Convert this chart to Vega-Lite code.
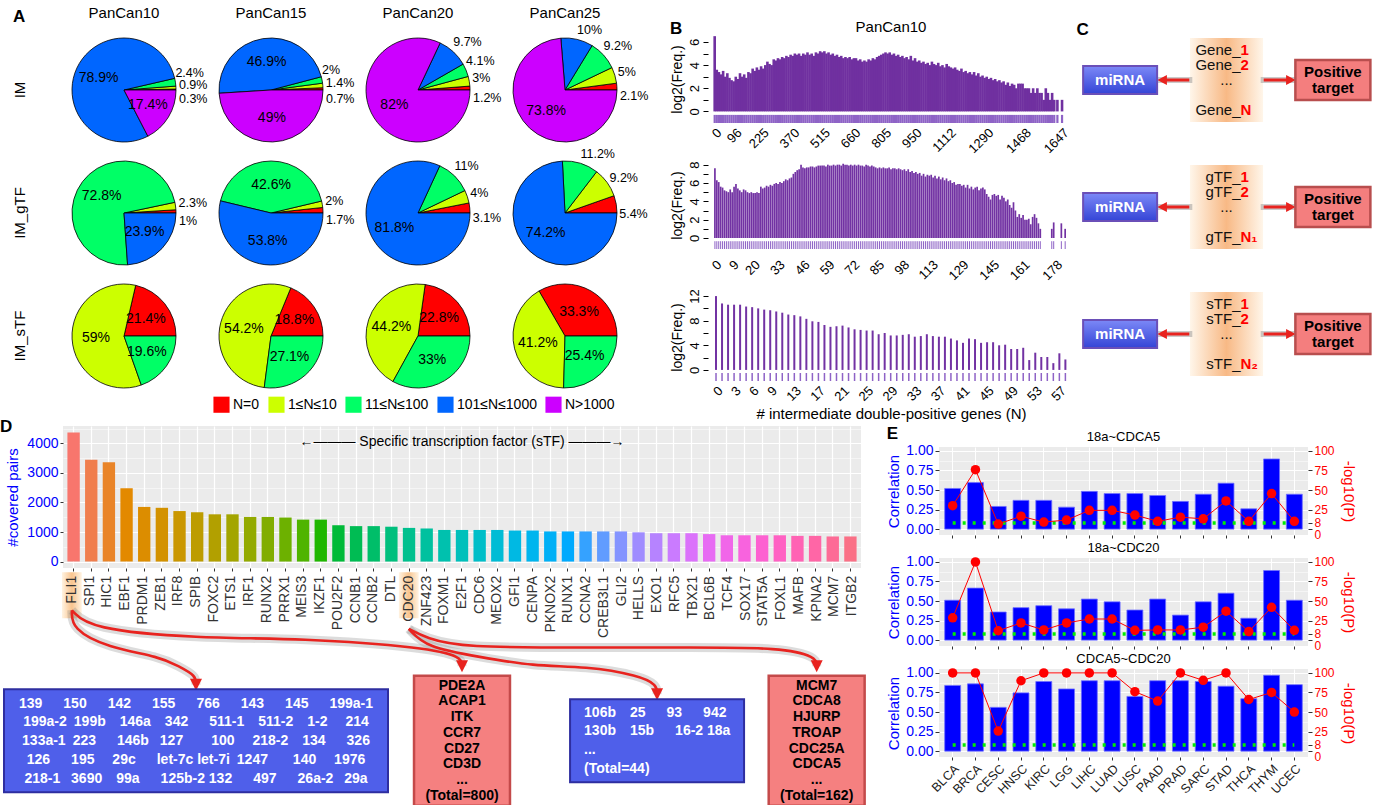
{
"$schema": "https://vega.github.io/schema/vega-lite/v6.json",
"background": "white",
"padding": {"left": 0, "top": 6, "right": 2, "bottom": 0},
"config": {"font": "Liberation Sans", "view": {"stroke": null}, "title": {"fontWeight": "normal", "color": "black"}, "axis": {"titleFontWeight": "normal", "labelColor": "black", "titleColor": "black", "labelOverlap": false}},
"datasets": {
"pies": [
{"set":"PanCan10","type":"IM","cls":"N=0","lo":0,"p":0.003},
{"set":"PanCan10","type":"IM","cls":"1≤N≤10","lo":1,"p":0.009},
{"set":"PanCan10","type":"IM","cls":"11≤N≤100","lo":11,"p":0.024},
{"set":"PanCan10","type":"IM","cls":"101≤N≤1000","lo":101,"p":0.789},
{"set":"PanCan10","type":"IM","cls":"N>1000","lo":1001,"p":0.174},
{"set":"PanCan15","type":"IM","cls":"N=0","lo":0,"p":0.007},
{"set":"PanCan15","type":"IM","cls":"1≤N≤10","lo":1,"p":0.014},
{"set":"PanCan15","type":"IM","cls":"11≤N≤100","lo":11,"p":0.02},
{"set":"PanCan15","type":"IM","cls":"101≤N≤1000","lo":101,"p":0.469},
{"set":"PanCan15","type":"IM","cls":"N>1000","lo":1001,"p":0.49},
{"set":"PanCan20","type":"IM","cls":"N=0","lo":0,"p":0.012},
{"set":"PanCan20","type":"IM","cls":"1≤N≤10","lo":1,"p":0.03},
{"set":"PanCan20","type":"IM","cls":"11≤N≤100","lo":11,"p":0.041},
{"set":"PanCan20","type":"IM","cls":"101≤N≤1000","lo":101,"p":0.097},
{"set":"PanCan20","type":"IM","cls":"N>1000","lo":1001,"p":0.82},
{"set":"PanCan25","type":"IM","cls":"N=0","lo":0,"p":0.021},
{"set":"PanCan25","type":"IM","cls":"1≤N≤10","lo":1,"p":0.05},
{"set":"PanCan25","type":"IM","cls":"11≤N≤100","lo":11,"p":0.092},
{"set":"PanCan25","type":"IM","cls":"101≤N≤1000","lo":101,"p":0.1},
{"set":"PanCan25","type":"IM","cls":"N>1000","lo":1001,"p":0.738},
{"set":"PanCan10","type":"IM_gTF","cls":"N=0","lo":0,"p":0.01},
{"set":"PanCan10","type":"IM_gTF","cls":"1≤N≤10","lo":1,"p":0.023},
{"set":"PanCan10","type":"IM_gTF","cls":"11≤N≤100","lo":11,"p":0.728},
{"set":"PanCan10","type":"IM_gTF","cls":"101≤N≤1000","lo":101,"p":0.239},
{"set":"PanCan15","type":"IM_gTF","cls":"N=0","lo":0,"p":0.017},
{"set":"PanCan15","type":"IM_gTF","cls":"1≤N≤10","lo":1,"p":0.02},
{"set":"PanCan15","type":"IM_gTF","cls":"11≤N≤100","lo":11,"p":0.426},
{"set":"PanCan15","type":"IM_gTF","cls":"101≤N≤1000","lo":101,"p":0.538},
{"set":"PanCan20","type":"IM_gTF","cls":"N=0","lo":0,"p":0.031},
{"set":"PanCan20","type":"IM_gTF","cls":"1≤N≤10","lo":1,"p":0.04},
{"set":"PanCan20","type":"IM_gTF","cls":"11≤N≤100","lo":11,"p":0.11},
{"set":"PanCan20","type":"IM_gTF","cls":"101≤N≤1000","lo":101,"p":0.818},
{"set":"PanCan25","type":"IM_gTF","cls":"N=0","lo":0,"p":0.054},
{"set":"PanCan25","type":"IM_gTF","cls":"1≤N≤10","lo":1,"p":0.092},
{"set":"PanCan25","type":"IM_gTF","cls":"11≤N≤100","lo":11,"p":0.112},
{"set":"PanCan25","type":"IM_gTF","cls":"101≤N≤1000","lo":101,"p":0.742},
{"set":"PanCan10","type":"IM_sTF","cls":"N=0","lo":0,"p":0.214},
{"set":"PanCan10","type":"IM_sTF","cls":"1≤N≤10","lo":1,"p":0.59},
{"set":"PanCan10","type":"IM_sTF","cls":"11≤N≤100","lo":11,"p":0.196},
{"set":"PanCan15","type":"IM_sTF","cls":"N=0","lo":0,"p":0.188},
{"set":"PanCan15","type":"IM_sTF","cls":"1≤N≤10","lo":1,"p":0.542},
{"set":"PanCan15","type":"IM_sTF","cls":"11≤N≤100","lo":11,"p":0.271},
{"set":"PanCan20","type":"IM_sTF","cls":"N=0","lo":0,"p":0.228},
{"set":"PanCan20","type":"IM_sTF","cls":"1≤N≤10","lo":1,"p":0.442},
{"set":"PanCan20","type":"IM_sTF","cls":"11≤N≤100","lo":11,"p":0.33},
{"set":"PanCan25","type":"IM_sTF","cls":"N=0","lo":0,"p":0.333},
{"set":"PanCan25","type":"IM_sTF","cls":"1≤N≤10","lo":1,"p":0.412},
{"set":"PanCan25","type":"IM_sTF","cls":"11≤N≤100","lo":11,"p":0.254}
],
"b1": [
{"n":0,"f":6.5},{"n":10,"f":3.6},{"n":20,"f":3.4},{"n":30,"f":3.2},{"n":40,"f":3.5},{"n":50,"f":3.0},{"n":60,"f":3.3},{"n":70,"f":2.9},{"n":80,"f":2.7},{"n":90,"f":2.6},
{"n":100,"f":3.0},{"n":110,"f":2.8},{"n":120,"f":3.3},{"n":130,"f":3.0},{"n":140,"f":3.2},{"n":150,"f":2.9},{"n":160,"f":3.4},{"n":170,"f":3.3},{"n":180,"f":3.7},{"n":190,"f":3.5},
{"n":200,"f":3.8},{"n":210,"f":3.6},{"n":220,"f":3.9},{"n":230,"f":3.7},{"n":240,"f":4.0},{"n":250,"f":4.3},{"n":260,"f":4.1},{"n":270,"f":4.0},{"n":280,"f":4.5},{"n":290,"f":4.4},
{"n":300,"f":4.6},{"n":310,"f":4.5},{"n":320,"f":4.7},{"n":330,"f":4.6},{"n":340,"f":4.8},{"n":350,"f":4.7},{"n":360,"f":4.9},{"n":370,"f":4.8},{"n":380,"f":5.0},{"n":390,"f":4.9},
{"n":400,"f":5.0},{"n":410,"f":4.8},{"n":420,"f":5.0},{"n":430,"f":4.9},{"n":440,"f":5.1},{"n":450,"f":4.9},{"n":460,"f":5.0},{"n":470,"f":4.8},{"n":480,"f":5.1},{"n":490,"f":5.0},
{"n":500,"f":5.2},{"n":510,"f":5.1},{"n":520,"f":5.2},{"n":530,"f":5.0},{"n":540,"f":5.1},{"n":550,"f":4.9},{"n":560,"f":5.0},{"n":570,"f":4.8},{"n":580,"f":4.9},{"n":590,"f":4.7},
{"n":600,"f":4.8},{"n":610,"f":4.6},{"n":620,"f":4.7},{"n":630,"f":4.6},{"n":640,"f":4.7},{"n":650,"f":4.5},{"n":660,"f":4.6},{"n":670,"f":4.6},{"n":680,"f":4.4},{"n":690,"f":4.5},
{"n":700,"f":4.3},{"n":710,"f":4.4},{"n":720,"f":4.3},{"n":730,"f":4.5},{"n":740,"f":4.4},{"n":750,"f":4.6},{"n":760,"f":4.5},{"n":770,"f":4.7},{"n":780,"f":4.8},{"n":790,"f":4.9},
{"n":800,"f":5.0},{"n":810,"f":5.1},{"n":820,"f":5.0},{"n":830,"f":5.1},{"n":840,"f":4.9},{"n":850,"f":5.0},{"n":860,"f":4.8},{"n":870,"f":4.9},{"n":880,"f":4.7},{"n":890,"f":4.8},
{"n":900,"f":4.6},{"n":910,"f":4.7},{"n":920,"f":4.5},{"n":930,"f":4.8},{"n":940,"f":4.4},{"n":950,"f":4.6},{"n":960,"f":4.3},{"n":970,"f":4.4},{"n":980,"f":4.2},{"n":990,"f":4.3},
{"n":1000,"f":4.1},{"n":1010,"f":4.2},{"n":1020,"f":4.0},{"n":1030,"f":4.3},{"n":1040,"f":4.1},{"n":1050,"f":4.0},{"n":1060,"f":4.2},{"n":1070,"f":3.9},{"n":1080,"f":4.0},{"n":1090,"f":3.8},
{"n":1100,"f":4.1},{"n":1110,"f":3.9},{"n":1120,"f":3.8},{"n":1130,"f":3.7},{"n":1140,"f":3.8},{"n":1150,"f":3.6},{"n":1160,"f":3.5},{"n":1170,"f":3.7},{"n":1180,"f":3.4},{"n":1190,"f":3.5},
{"n":1200,"f":3.3},{"n":1210,"f":3.4},{"n":1220,"f":3.2},{"n":1230,"f":3.4},{"n":1240,"f":3.1},{"n":1250,"f":3.3},{"n":1260,"f":3.0},{"n":1270,"f":3.1},{"n":1280,"f":2.9},{"n":1290,"f":3.0},
{"n":1300,"f":2.8},{"n":1310,"f":2.9},{"n":1320,"f":2.7},{"n":1330,"f":2.8},{"n":1340,"f":2.6},{"n":1350,"f":2.7},{"n":1360,"f":2.5},{"n":1370,"f":2.6},{"n":1380,"f":2.3},{"n":1390,"f":2.5},
{"n":1400,"f":2.2},{"n":1410,"f":2.4},{"n":1420,"f":2.3},{"n":1430,"f":2.0},{"n":1440,"f":2.4},{"n":1450,"f":2.4},{"n":1460,"f":2.4},{"n":1470,"f":2.0},{"n":1480,"f":2.0},{"n":1490,"f":2.0},
{"n":1500,"f":1.6},{"n":1510,"f":2.0},{"n":1520,"f":1.6},{"n":1530,"f":2.0},{"n":1540,"f":1.6},{"n":1550,"f":1.6},{"n":1560,"f":1.0},{"n":1570,"f":2.0},{"n":1580,"f":1.6},{"n":1590,"f":1.0},
{"n":1600,"f":1.6},{"n":1610,"f":1.0},{"n":1625,"f":1.0},{"n":1647,"f":1.0}
],
"b2": [
{"n":0,"f":7.6},{"n":1,"f":6.3},{"n":2,"f":6.1},{"n":3,"f":5.6},{"n":4,"f":5.5},{"n":5,"f":5.2},{"n":6,"f":5.1},{"n":7,"f":5.0},{"n":8,"f":5.3},{"n":9,"f":5.0},
{"n":10,"f":5.6},{"n":11,"f":5.9},{"n":12,"f":5.4},{"n":13,"f":5.2},{"n":14,"f":5.0},{"n":15,"f":5.3},{"n":16,"f":5.2},{"n":17,"f":5.0},{"n":18,"f":4.9},{"n":19,"f":5.0},
{"n":20,"f":4.9},{"n":21,"f":4.9},{"n":22,"f":5.0},{"n":23,"f":4.9},{"n":24,"f":5.6},{"n":25,"f":5.4},{"n":26,"f":5.5},{"n":27,"f":5.7},{"n":28,"f":5.6},{"n":29,"f":5.8},
{"n":30,"f":5.7},{"n":31,"f":5.9},{"n":32,"f":6.0},{"n":33,"f":5.9},{"n":34,"f":6.1},{"n":35,"f":6.0},{"n":36,"f":6.2},{"n":37,"f":6.4},{"n":38,"f":6.3},{"n":39,"f":6.5},
{"n":40,"f":6.6},{"n":41,"f":7.0},{"n":42,"f":7.2},{"n":43,"f":7.4},{"n":44,"f":7.5},{"n":45,"f":8.0},{"n":46,"f":7.7},{"n":47,"f":7.6},{"n":48,"f":7.7},{"n":49,"f":7.7},
{"n":50,"f":7.8},{"n":51,"f":7.8},{"n":52,"f":7.7},{"n":53,"f":7.8},{"n":54,"f":7.9},{"n":55,"f":7.9},{"n":56,"f":7.9},{"n":57,"f":7.9},{"n":58,"f":7.8},{"n":59,"f":8.0},
{"n":60,"f":7.9},{"n":61,"f":7.9},{"n":62,"f":8.0},{"n":63,"f":7.9},{"n":64,"f":8.0},{"n":65,"f":8.0},{"n":66,"f":7.9},{"n":67,"f":8.1},{"n":68,"f":8.0},{"n":69,"f":8.0},
{"n":70,"f":7.9},{"n":71,"f":8.0},{"n":72,"f":7.9},{"n":73,"f":8.0},{"n":74,"f":7.9},{"n":75,"f":8.0},{"n":76,"f":7.9},{"n":77,"f":7.9},{"n":78,"f":7.8},{"n":79,"f":8.0},
{"n":80,"f":7.9},{"n":81,"f":7.8},{"n":82,"f":7.9},{"n":83,"f":7.8},{"n":84,"f":7.7},{"n":85,"f":7.6},{"n":86,"f":7.7},{"n":87,"f":7.6},{"n":88,"f":7.7},{"n":89,"f":7.6},
{"n":90,"f":7.6},{"n":91,"f":7.7},{"n":92,"f":7.5},{"n":93,"f":7.6},{"n":94,"f":7.6},{"n":95,"f":7.5},{"n":96,"f":7.6},{"n":97,"f":7.5},{"n":98,"f":7.4},{"n":99,"f":7.5},
{"n":100,"f":7.3},{"n":101,"f":7.5},{"n":102,"f":7.2},{"n":103,"f":7.3},{"n":104,"f":7.1},{"n":105,"f":7.2},{"n":106,"f":7.0},{"n":107,"f":7.1},{"n":108,"f":6.8},{"n":109,"f":7.0},
{"n":110,"f":6.7},{"n":111,"f":6.9},{"n":112,"f":6.8},{"n":113,"f":6.9},{"n":114,"f":6.6},{"n":115,"f":6.8},{"n":116,"f":6.5},{"n":117,"f":6.7},{"n":118,"f":6.4},{"n":119,"f":6.6},
{"n":120,"f":6.3},{"n":121,"f":6.5},{"n":122,"f":6.2},{"n":123,"f":6.3},{"n":124,"f":6.0},{"n":125,"f":6.1},{"n":126,"f":5.8},{"n":127,"f":5.9},{"n":128,"f":5.9},{"n":129,"f":5.7},
{"n":130,"f":5.8},{"n":131,"f":5.5},{"n":132,"f":5.8},{"n":133,"f":5.4},{"n":134,"f":5.6},{"n":135,"f":5.3},{"n":136,"f":5.5},{"n":137,"f":5.6},{"n":138,"f":5.2},{"n":139,"f":5.4},
{"n":140,"f":5.5},{"n":141,"f":5.3},{"n":142,"f":4.8},{"n":143,"f":4.5},{"n":144,"f":4.2},{"n":145,"f":4.7},{"n":146,"f":4.8},{"n":147,"f":4.6},{"n":148,"f":4.7},{"n":149,"f":4.2},
{"n":150,"f":4.6},{"n":151,"f":4.4},{"n":152,"f":4.0},{"n":153,"f":4.2},{"n":154,"f":3.6},{"n":155,"f":3.3},{"n":156,"f":3.9},{"n":157,"f":3.0},{"n":158,"f":2.3},{"n":159,"f":2.6},
{"n":160,"f":2.2},{"n":161,"f":2.5},{"n":162,"f":2.0},{"n":163,"f":2.0},{"n":164,"f":2.1},{"n":165,"f":1.5},{"n":166,"f":2.3},{"n":167,"f":2.6},{"n":168,"f":2.2},{"n":169,"f":1.6},
{"n":170,"f":1.0},{"n":176,"f":1.0},{"n":177,"f":1.7},{"n":181,"f":1.6},{"n":183,"f":1.0}
],
"b3": [
{"n":0,"f":12.0},{"n":1,"f":10.8},{"n":2,"f":10.6},{"n":3,"f":10.6},{"n":4,"f":10.6},{"n":5,"f":10.3},{"n":6,"f":10.2},{"n":7,"f":10.0},{"n":8,"f":9.8},{"n":9,"f":9.7},
{"n":10,"f":9.5},{"n":11,"f":9.3},{"n":12,"f":9.0},{"n":13,"f":8.9},{"n":14,"f":8.7},{"n":15,"f":8.3},{"n":16,"f":7.9},{"n":17,"f":7.8},{"n":18,"f":7.3},{"n":19,"f":7.0},
{"n":20,"f":7.1},{"n":21,"f":7.2},{"n":22,"f":6.9},{"n":23,"f":6.6},{"n":24,"f":6.5},{"n":25,"f":6.4},{"n":26,"f":6.4},{"n":27,"f":5.8},{"n":28,"f":6.0},{"n":29,"f":5.6},
{"n":30,"f":5.6},{"n":31,"f":5.7},{"n":32,"f":5.8},{"n":33,"f":5.4},{"n":34,"f":5.5},{"n":35,"f":5.8},{"n":36,"f":5.5},{"n":37,"f":5.4},{"n":38,"f":5.4},{"n":39,"f":5.1},
{"n":40,"f":4.8},{"n":41,"f":4.4},{"n":42,"f":5.1},{"n":43,"f":5.0},{"n":44,"f":4.4},{"n":45,"f":4.5},{"n":46,"f":4.5},{"n":47,"f":4.0},{"n":48,"f":4.1},{"n":49,"f":3.4},
{"n":50,"f":3.4},{"n":51,"f":3.6},{"n":52,"f":1.6},{"n":53,"f":2.8},{"n":54,"f":2.1},{"n":55,"f":2.1},{"n":56,"f":1.1},{"n":57,"f":2.7},{"n":58,"f":1.7}
],
"cdiag": [
{"grp":"Gene","kind":"mid","role":"g","line":"3"},
{"grp":"Gene","kind":"arrowL","role":"l","line":"3"},
{"grp":"Gene","kind":"arrowR","role":"r","line":"3"},
{"grp":"Gene","kind":"mirna","role":"m","line":"3","txt":"miRNA"},
{"grp":"Gene","kind":"target","role":"t","line":"3","txt":"Positive\ntarget"},
{"grp":"Gene","kind":"item","role":"g","line":"1","pre":"Gene_","num":"1"},
{"grp":"Gene","kind":"item","role":"g","line":"2","pre":"Gene_","num":"2"},
{"grp":"Gene","kind":"dots","role":"g","line":"3","txt":"..."},
{"grp":"Gene","kind":"item","role":"g","line":"5","pre":"Gene_","num":"N"},
{"grp":"gTF","kind":"mid","role":"g","line":"3"},
{"grp":"gTF","kind":"arrowL","role":"l","line":"3"},
{"grp":"gTF","kind":"arrowR","role":"r","line":"3"},
{"grp":"gTF","kind":"mirna","role":"m","line":"3","txt":"miRNA"},
{"grp":"gTF","kind":"target","role":"t","line":"3","txt":"Positive\ntarget"},
{"grp":"gTF","kind":"item","role":"g","line":"1","pre":"gTF_","num":"1"},
{"grp":"gTF","kind":"item","role":"g","line":"2","pre":"gTF_","num":"2"},
{"grp":"gTF","kind":"dots","role":"g","line":"3","txt":"..."},
{"grp":"gTF","kind":"item","role":"g","line":"5","pre":"gTF_","num":"N₁"},
{"grp":"sTF","kind":"mid","role":"g","line":"3"},
{"grp":"sTF","kind":"arrowL","role":"l","line":"3"},
{"grp":"sTF","kind":"arrowR","role":"r","line":"3"},
{"grp":"sTF","kind":"mirna","role":"m","line":"3","txt":"miRNA"},
{"grp":"sTF","kind":"target","role":"t","line":"3","txt":"Positive\ntarget"},
{"grp":"sTF","kind":"item","role":"g","line":"1","pre":"sTF_","num":"1"},
{"grp":"sTF","kind":"item","role":"g","line":"2","pre":"sTF_","num":"2"},
{"grp":"sTF","kind":"dots","role":"g","line":"3","txt":"..."},
{"grp":"sTF","kind":"item","role":"g","line":"5","pre":"sTF_","num":"N₂"}
],
"tfs": [
{"tf":"FLI1","pairs":4370},{"tf":"SPI1","pairs":3450},{"tf":"HIC1","pairs":3360},{"tf":"EBF1","pairs":2480},{"tf":"PRDM1","pairs":1850},
{"tf":"ZEB1","pairs":1820},{"tf":"IRF8","pairs":1710},{"tf":"SPIB","pairs":1670},{"tf":"FOXC2","pairs":1600},{"tf":"ETS1","pairs":1600},
{"tf":"IRF1","pairs":1510},{"tf":"RUNX2","pairs":1510},{"tf":"PRRX1","pairs":1490},{"tf":"MEIS3","pairs":1420},{"tf":"IKZF1","pairs":1420},
{"tf":"POU2F2","pairs":1230},{"tf":"CCNB1","pairs":1200},{"tf":"CCNB2","pairs":1200},{"tf":"DTL","pairs":1180},{"tf":"CDC20","pairs":1140},
{"tf":"ZNF423","pairs":1120},{"tf":"FOXM1","pairs":1070},{"tf":"E2F1","pairs":1070},{"tf":"CDC6","pairs":1070},{"tf":"MEOX2","pairs":1070},
{"tf":"GFI1","pairs":1050},{"tf":"CENPA","pairs":1050},{"tf":"PKNOX2","pairs":1020},{"tf":"RUNX1","pairs":1020},{"tf":"CCNA2","pairs":1020},
{"tf":"CREB3L1","pairs":1020},{"tf":"GLI2","pairs":1020},{"tf":"HELLS","pairs":990},{"tf":"EXO1","pairs":960},{"tf":"RFC5","pairs":960},
{"tf":"TBX21","pairs":960},{"tf":"BCL6B","pairs":930},{"tf":"TCF4","pairs":890},{"tf":"SOX17","pairs":890},{"tf":"STAT5A","pairs":890},
{"tf":"FOXL1","pairs":890},{"tf":"MAFB","pairs":870},{"tf":"KPNA2","pairs":870},{"tf":"MCM7","pairs":850},{"tf":"ITGB2","pairs":850}
],
"darrows": [
{"arrow":"a1","seq":1,"tf":"FLI1","tier":4},{"arrow":"a1","seq":2,"tf":"FLI1","tier":6},{"arrow":"a1","seq":3,"tf":"HIC1","tier":8},{"arrow":"a1","seq":4,"tf":"ZEB1","tier":9},{"arrow":"a1","seq":5,"tf":"IRF8","tier":10},{"arrow":"a1","seq":6,"tf":"SPIB","tier":11},{"arrow":"a1","seq":7,"tf":"SPIB","tier":12},
{"arrow":"a2","seq":1,"tf":"FLI1","tier":4},{"arrow":"a2","seq":2,"tf":"SPI1","tier":6},{"arrow":"a2","seq":3,"tf":"SPIB","tier":7},{"arrow":"a2","seq":4,"tf":"MEIS3","tier":7},{"arrow":"a2","seq":5,"tf":"ZNF423","tier":8},{"arrow":"a2","seq":6,"tf":"E2F1","tier":9},{"arrow":"a2","seq":7,"tf":"E2F1","tier":10},
{"arrow":"a3","seq":1,"tf":"CDC20","tier":6},{"arrow":"a3","seq":2,"tf":"ZNF423","tier":8},{"arrow":"a3","seq":3,"tf":"CDC6","tier":9},{"arrow":"a3","seq":4,"tf":"CENPA","tier":10},{"arrow":"a3","seq":5,"tf":"CCNA2","tier":10},{"arrow":"a3","seq":6,"tf":"HELLS","tier":11},{"arrow":"a3","seq":7,"tf":"EXO1","tier":12},{"arrow":"a3","seq":8,"tf":"EXO1","tier":13},
{"arrow":"a4","seq":1,"tf":"CDC20","tier":6},{"arrow":"a4","seq":2,"tf":"ZNF423","tier":7},{"arrow":"a4","seq":3,"tf":"E2F1","tier":8},{"arrow":"a4","seq":4,"tf":"CCNA2","tier":8},{"arrow":"a4","seq":5,"tf":"TBX21","tier":8},{"arrow":"a4","seq":6,"tf":"FOXL1","tier":8},{"arrow":"a4","seq":7,"tf":"KPNA2","tier":9},{"arrow":"a4","seq":8,"tf":"KPNA2","tier":10}
],
"dheads": [
{"arrow":"a1","tf":"SPIB","tier":12},{"arrow":"a2","tf":"E2F1","tier":10},{"arrow":"a3","tf":"EXO1","tier":13},{"arrow":"a4","tf":"KPNA2","tier":10}
],
"dboxes": [
{"box":"blue1","tf":"SPIB","tier":18,"txt":"139\u2002\u2002\u2002150\u2002\u2002\u2002142\u2002\u2002\u2002155\u2002\u2002\u2002766\u2002\u2002\u2002143\u2002\u2002\u2002145\u2002\u2002\u2002199a-1\n199a-2\u2002199b\u2002\u2002146a\u2002\u2002342\u2002\u2002\u2002511-1\u2002\u2002511-2\u2002\u20021-2\u2002\u2002 214\n133a-1\u2002223\u2002\u2002\u2002146b\u2002 127\u2002\u2002\u2002\u2002100\u2002\u2002 218-2\u2002\u2002134\u2002\u2002\u2002326\n126\u2002\u2002\u2002195\u2002\u2002 29c\u2002\u2002\u2002let-7c let-7i\u20021247\u2002\u2002\u2002 140\u2002\u2002 1976\n218-1\u2002 3690\u2002\u200299a\u2002\u2002\u2002125b-2 132\u2002\u2002\u2002497\u2002\u2002\u200226a-2\u2002 29a"},
{"box":"red","tf":"E2F1","tier":18,"txt":"PDE2A\nACAP1\nITK\nCCR7\nCD27\nCD3D\n...\n(Total=800)"},
{"box":"blue2","tf":"EXO1","tier":18,"txt":"106b\u2002\u200225\u2002\u2002\u200293\u2002\u2002\u2002942\n130b\u2002\u200215b\u2002\u2002\u200216-2 18a\n...\n(Total=44)"},
{"box":"red","tf":"KPNA2","tier":18,"txt":"MCM7\nCDCA8\nHJURP\nTROAP\nCDC25A\nCDCA5\n...\n(Total=162)"}
],
"ecorr": [
{"pair":"18a~CDCA5","cancer":"BLCA","corr":0.52,"nlp":30},
{"pair":"18a~CDCA5","cancer":"BRCA","corr":0.595,"nlp":76},
{"pair":"18a~CDCA5","cancer":"CESC","corr":0.29,"nlp":6.5},
{"pair":"18a~CDCA5","cancer":"HNSC","corr":0.368,"nlp":16.5},
{"pair":"18a~CDCA5","cancer":"KIRC","corr":0.368,"nlp":9},
{"pair":"18a~CDCA5","cancer":"LGG","corr":0.281,"nlp":11.6},
{"pair":"18a~CDCA5","cancer":"LIHC","corr":0.483,"nlp":24},
{"pair":"18a~CDCA5","cancer":"LUAD","corr":0.455,"nlp":24},
{"pair":"18a~CDCA5","cancer":"LUSC","corr":0.455,"nlp":18},
{"pair":"18a~CDCA5","cancer":"PAAD","corr":0.43,"nlp":10},
{"pair":"18a~CDCA5","cancer":"PRAD","corr":0.355,"nlp":15.3},
{"pair":"18a~CDCA5","cancer":"SARC","corr":0.446,"nlp":13.2},
{"pair":"18a~CDCA5","cancer":"STAD","corr":0.587,"nlp":36},
{"pair":"18a~CDCA5","cancer":"THCA","corr":0.26,"nlp":10},
{"pair":"18a~CDCA5","cancer":"THYM","corr":0.897,"nlp":45.5},
{"pair":"18a~CDCA5","cancer":"UCEC","corr":0.446,"nlp":10},
{"pair":"18a~CDC20","cancer":"BLCA","corr":0.51,"nlp":28.5},
{"pair":"18a~CDC20","cancer":"BRCA","corr":0.665,"nlp":100},
{"pair":"18a~CDC20","cancer":"CESC","corr":0.36,"nlp":12},
{"pair":"18a~CDC20","cancer":"HNSC","corr":0.415,"nlp":22},
{"pair":"18a~CDC20","cancer":"KIRC","corr":0.44,"nlp":13},
{"pair":"18a~CDC20","cancer":"LGG","corr":0.40,"nlp":22},
{"pair":"18a~CDC20","cancer":"LIHC","corr":0.525,"nlp":27},
{"pair":"18a~CDC20","cancer":"LUAD","corr":0.49,"nlp":27},
{"pair":"18a~CDC20","cancer":"LUSC","corr":0.385,"nlp":12.5},
{"pair":"18a~CDC20","cancer":"PAAD","corr":0.525,"nlp":13},
{"pair":"18a~CDC20","cancer":"PRAD","corr":0.32,"nlp":13},
{"pair":"18a~CDC20","cancer":"SARC","corr":0.49,"nlp":16.5},
{"pair":"18a~CDC20","cancer":"STAD","corr":0.60,"nlp":37},
{"pair":"18a~CDC20","cancer":"THCA","corr":0.28,"nlp":11},
{"pair":"18a~CDC20","cancer":"THYM","corr":0.89,"nlp":42},
{"pair":"18a~CDC20","cancer":"UCEC","corr":0.51,"nlp":12.5},
{"pair":"CDCA5~CDC20","cancer":"BLCA","corr":0.84,"nlp":100},
{"pair":"CDCA5~CDC20","cancer":"BRCA","corr":0.86,"nlp":100},
{"pair":"CDCA5~CDC20","cancer":"CESC","corr":0.56,"nlp":25.6},
{"pair":"CDCA5~CDC20","cancer":"HNSC","corr":0.745,"nlp":90},
{"pair":"CDCA5~CDC20","cancer":"KIRC","corr":0.89,"nlp":100},
{"pair":"CDCA5~CDC20","cancer":"LGG","corr":0.795,"nlp":100},
{"pair":"CDCA5~CDC20","cancer":"LIHC","corr":0.90,"nlp":100},
{"pair":"CDCA5~CDC20","cancer":"LUAD","corr":0.90,"nlp":100},
{"pair":"CDCA5~CDC20","cancer":"LUSC","corr":0.70,"nlp":76},
{"pair":"CDCA5~CDC20","cancer":"PAAD","corr":0.90,"nlp":64},
{"pair":"CDCA5~CDC20","cancer":"PRAD","corr":0.90,"nlp":100},
{"pair":"CDCA5~CDC20","cancer":"SARC","corr":0.89,"nlp":90.5},
{"pair":"CDCA5~CDC20","cancer":"STAD","corr":0.83,"nlp":100},
{"pair":"CDCA5~CDC20","cancer":"THCA","corr":0.67,"nlp":66},
{"pair":"CDCA5~CDC20","cancer":"THYM","corr":0.97,"nlp":75},
{"pair":"CDCA5~CDC20","cancer":"UCEC","corr":0.85,"nlp":50}
]
},
"resolve": {"scale": {"color": "independent"}, "legend": {"color": "independent"}},
"spacing": -5,
"vconcat": [
{
"spacing": 20,
"resolve": {"scale": {"color": "independent"}, "legend": {"color": "independent"}},
"hconcat": [
{
"title": {"text": "A", "anchor": "start", "frame": "bounds", "fontSize": 17, "fontWeight": "bold", "offset": -20},
"data": {"name": "pies"},
"bounds": "flush",
"facet": {
"row": {"field": "type", "type": "nominal", "sort": ["IM", "IM_gTF", "IM_sTF"], "header": {"title": null, "labelAngle": -90, "labelOrient": "left", "labelFontSize": 15, "labelPadding": 28}},
"column": {"field": "set", "type": "nominal", "header": {"title": null, "labelFontSize": 15, "labelPadding": 14}}
},
"spacing": {"row": 13, "column": 25},
"resolve": {"scale": {"theta": "independent"}},
"spec": {
"width": 122, "height": 110,
"encoding": {
"theta": {"field": "p", "type": "quantitative", "stack": true, "scale": {"range": [1.5708, -4.7124]}},
"order": {"field": "lo", "type": "quantitative"}
},
"layer": [
{"mark": {"type": "arc", "outerRadius": 52, "stroke": "black", "strokeWidth": 0.8},
"encoding": {"color": {"field": "cls", "type": "nominal", "scale": {"domain": ["N=0", "1≤N≤10", "11≤N≤100", "101≤N≤1000", "N>1000"], "range": ["#FF0000", "#CCFF00", "#00FF66", "#0066FF", "#CC00FF"]},
"legend": {"title": null, "orient": "none", "legendX": 150, "legendY": 361, "direction": "horizontal", "symbolType": "square", "symbolSize": 260, "symbolStrokeWidth": 0, "labelFontSize": 14, "columnPadding": 8, "labelOffset": 3}}}},
{"mark": {"type": "text", "radius": 28, "fontSize": 14},
"encoding": {"text": {"condition": {"test": "datum.p >= 0.12", "field": "p", "type": "quantitative", "format": ".1~%"}, "value": ""}, "size": {"condition": {"test": "datum.p >= 0.12", "value": 14}, "value": 0}}},
{"mark": {"type": "text", "radius": 55, "fontSize": 12.5, "align": "left", "baseline": "top", "dy": 4},
"encoding": {"text": {"condition": {"test": "datum.p < 0.12 && datum.lo === 0", "field": "p", "type": "quantitative", "format": ".1~%"}, "value": ""}, "size": {"condition": {"test": "datum.p < 0.12 && datum.lo === 0", "value": 12.5}, "value": 0}}},
{"mark": {"type": "text", "radius": 55, "fontSize": 12.5, "align": "left", "baseline": "middle", "dy": -2.5},
"encoding": {"text": {"condition": {"test": "datum.p < 0.12 && datum.lo === 1", "field": "p", "type": "quantitative", "format": ".1~%"}, "value": ""}, "size": {"condition": {"test": "datum.p < 0.12 && datum.lo === 1", "value": 12.5}, "value": 0}}},
{"mark": {"type": "text", "radius": 52, "fontSize": 12.5, "align": "left", "baseline": "bottom", "dy": -2.5},
"encoding": {"text": {"condition": {"test": "datum.p < 0.12 && datum.lo >= 11", "field": "p", "type": "quantitative", "format": ".1~%"}, "value": ""}, "size": {"condition": {"test": "datum.p < 0.12 && datum.lo >= 11", "value": 12.5}, "value": 0}}}
]
}
},
{
"spacing": 2.5,
"hconcat": [
{
"title": {"text": "B", "anchor": "start", "frame": "bounds", "fontSize": 17, "fontWeight": "bold", "offset": -18},
"spacing": 5,
"vconcat": [
{
"title": {"text": "PanCan10", "fontSize": 15, "offset": 0},
"width": 366, "height": 88,
"data": {"name": "b1"},
"layer": [
{"mark": {"type": "bar", "orient": "vertical", "color": "#7030A0", "size": 2.6},
"encoding": {
"x": {"field": "n", "type": "quantitative", "scale": {"domain": [-8, 1680], "nice": false, "zero": false},
"axis": {"values": [0, 96, 225, 370, 515, 660, 805, 950, 1112, 1290, 1468, 1647], "tickCount": 100, "format": "d", "labelAngle": -45, "labelFontSize": 13, "ticks": false, "domain": false, "grid": false, "title": null, "labelPadding": 3, "labelFlush": false, "labelOverlap": false}},
"y": {"field": "f", "type": "quantitative", "scale": {"domain": [-1, 6.6], "nice": false, "zero": false},
"axis": {"values": [0, 1, 2, 3, 4, 5, 6], "tickCount": 100, "format": "d", "labelExpr": "datum.value % 2 === 0 ? datum.label : ''", "labelOverlap": false, "labelAngle": -90, "labelFontSize": 13, "title": "log2(Freq.)", "titleFontSize": 14, "grid": false, "domain": false, "tickSize": 5, "tickColor": "black", "titlePadding": 4}}
}},
{"mark": {"type": "rule", "color": "#8E63C6", "strokeWidth": 2.2},
"encoding": {"x": {"field": "n", "type": "quantitative"}, "y": {"datum": -0.3}, "y2": {"datum": -1}}}
]
},
{
"width": 366, "height": 88,
"data": {"name": "b2"},
"layer": [
{"mark": {"type": "bar", "orient": "vertical", "color": "#7232A3", "size": 1.7},
"encoding": {
"x": {"field": "n", "type": "quantitative", "scale": {"domain": [-1, 185], "nice": false, "zero": false},
"axis": {"values": [0, 9, 20, 33, 46, 59, 72, 85, 98, 113, 129, 145, 161, 178], "tickCount": 100, "format": "d", "labelAngle": -45, "labelFontSize": 13, "ticks": false, "domain": false, "grid": false, "title": null, "labelPadding": 9, "labelFlush": false, "labelOverlap": false}},
"y": {"field": "f", "type": "quantitative", "scale": {"domain": [-1.2, 8.4], "nice": false, "zero": false},
"axis": {"values": [0, 1, 2, 3, 4, 5, 6, 7, 8], "tickCount": 100, "format": "d", "labelExpr": "datum.value % 2 === 0 ? datum.label : ''", "labelOverlap": false, "labelAngle": -90, "labelFontSize": 13, "title": "log2(Freq.)", "titleFontSize": 14, "grid": false, "domain": false, "tickSize": 5, "tickColor": "black", "titlePadding": 4}}
}},
{"mark": {"type": "rule", "color": "#8E63C6", "strokeWidth": 1},
"encoding": {"x": {"field": "n", "type": "quantitative"}, "y": {"datum": -0.35}, "y2": {"datum": -1.2}}}
]
},
{
"width": 366, "height": 88,
"data": {"name": "b3"},
"layer": [
{"mark": {"type": "bar", "orient": "vertical", "color": "#7232A3", "size": 2},
"encoding": {
"x": {"field": "n", "type": "quantitative", "scale": {"domain": [-0.5, 58.6], "nice": false, "zero": false},
"axis": {"values": [0, 3, 6, 9, 13, 17, 21, 25, 29, 33, 37, 41, 45, 49, 53, 57], "tickCount": 100, "format": "d", "labelAngle": -45, "labelFontSize": 13, "ticks": false, "domain": false, "grid": false, "title": "# intermediate double-positive genes (N)", "titleFontSize": 15, "titlePadding": 3, "labelPadding": 3, "labelFlush": false, "labelOverlap": false}},
"y": {"field": "f", "type": "quantitative", "scale": {"domain": [-1.8, 12.5], "nice": false, "zero": false},
"axis": {"values": [0, 2, 4, 6, 8, 10, 12], "tickCount": 100, "format": "d", "labelExpr": "datum.value % 4 === 0 ? datum.label : ''", "labelOverlap": false, "labelAngle": -90, "labelFontSize": 13, "title": "log2(Freq.)", "titleFontSize": 14, "grid": false, "domain": false, "tickSize": 5, "tickColor": "black", "titlePadding": 4}}
}},
{"mark": {"type": "rule", "color": "#8E63C6", "strokeWidth": 1.5},
"encoding": {"x": {"field": "n", "type": "quantitative"}, "y": {"datum": -0.5}, "y2": {"datum": -1.8}}}
]
}
]
},
{
"title": {"text": "C", "anchor": "start", "frame": "bounds", "fontSize": 17, "fontWeight": "bold", "offset": -4},
"data": {"name": "cdiag"},
"bounds": "flush",
"facet": {"row": {"field": "grp", "type": "nominal", "sort": ["Gene", "gTF", "sTF"], "header": null}},
"spacing": {"row": 37},
"spec": {
"width": 300, "height": 90,
"encoding": {
"x": {"field": "role", "type": "nominal", "scale": {"type": "point", "domain": ["m", "l", "g", "r", "t"], "padding": 0.82}, "axis": null},
"y": {"field": "line", "type": "nominal", "scale": {"type": "point", "domain": ["1", "2", "3", "4", "5"], "padding": 1.1}, "axis": null}
},
"layer": [
{"transform": [{"filter": "datum.kind === 'mid'"}], "mark": {"type": "point", "filled": true, "opacity": 1, "shape": "M-0.87,-1H0.87V1H-0.87Z", "size": 7056, "strokeWidth": 0, "fill": {"gradient": "linear", "x1": 0, "y1": 0, "x2": 1, "y2": 0, "stops": [{"offset": 0, "color": "#FFF6EA"}, {"offset": 0.5, "color": "#F8B985"}, {"offset": 1, "color": "#FFF6EA"}]}}},
{"transform": [{"filter": "datum.kind === 'arrowL' || datum.kind === 'arrowR'"}], "mark": {"type": "point", "filled": true, "opacity": 0.45, "shape": "M-1,-0.16H1V0.16H-1Z", "size": 1444, "fill": "#8C8C8C", "strokeWidth": 0}},
{"transform": [{"filter": "datum.kind === 'arrowL'"}], "mark": {"type": "point", "filled": true, "opacity": 1, "shape": "M-1,0L-0.4,-0.32L-0.4,-0.1L1,-0.1L1,0.1L-0.4,0.1L-0.4,0.32Z", "size": 1024, "fill": "#E8231F", "strokeWidth": 0}},
{"transform": [{"filter": "datum.kind === 'arrowR'"}], "mark": {"type": "point", "filled": true, "opacity": 1, "shape": "M1,0L0.4,-0.32L0.4,-0.1L-1,-0.1L-1,0.1L0.4,0.1L0.4,0.32Z", "size": 1024, "fill": "#E8231F", "strokeWidth": 0}},
{"transform": [{"filter": "datum.kind === 'mirna'"}], "mark": {"type": "point", "filled": true, "opacity": 1, "shape": "M-1,-0.378H1V0.378H-1Z", "size": 5476, "fill": {"gradient": "linear", "x1": 0, "y1": 0, "x2": 0, "y2": 1, "stops": [{"offset": 0, "color": "#7C89F7"}, {"offset": 1, "color": "#3444D6"}]}, "stroke": "#6A4FB8", "strokeWidth": 2}},
{"transform": [{"filter": "datum.kind === 'target'"}], "mark": {"type": "point", "filled": true, "opacity": 1, "shape": "M-1,-0.533H1V0.533H-1Z", "size": 5625, "fill": "#F47E7E", "stroke": "#B84E4E", "strokeWidth": 2.5}},
{"transform": [{"filter": "datum.kind === 'mirna'"}], "mark": {"type": "text", "color": "white", "fontWeight": "bold", "fontSize": 15}, "encoding": {"text": {"field": "txt"}}},
{"transform": [{"filter": "datum.kind === 'target'"}], "mark": {"type": "text", "color": "black", "fontWeight": "bold", "fontSize": 15, "lineBreak": "\n", "lineHeight": 16, "dy": -8}, "encoding": {"text": {"field": "txt"}}},
{"transform": [{"filter": "datum.kind === 'item'"}], "mark": {"type": "text", "align": "right", "dx": 14, "fontSize": 15, "color": "#111111"}, "encoding": {"text": {"field": "pre"}}},
{"transform": [{"filter": "datum.kind === 'item'"}], "mark": {"type": "text", "align": "left", "dx": 14, "fontSize": 15, "fontWeight": "bold", "color": "#FF0000"}, "encoding": {"text": {"field": "num"}}},
{"transform": [{"filter": "datum.kind === 'dots'"}], "mark": {"type": "text", "fontSize": 15, "color": "#111111"}, "encoding": {"text": {"field": "txt"}}}
]
}
}
]
}
]
},
{
"spacing": 16,
"resolve": {"scale": {"color": "independent"}, "legend": {"color": "independent"}},
"hconcat": [
{
"title": {"text": "D", "anchor": "start", "frame": "bounds", "fontSize": 17, "fontWeight": "bold", "offset": -14},
"spacing": 0,
"vconcat": [
{
"width": 798, "height": 142,
"view": {"fill": "#EBEBEB", "stroke": null},
"layer": [
{"data": {"name": "tfs"}, "mark": {"type": "bar"},
"encoding": {
"x": {"field": "tf", "type": "nominal", "sort": null, "scale": {"domain": ["FLI1","SPI1","HIC1","EBF1","PRDM1","ZEB1","IRF8","SPIB","FOXC2","ETS1","IRF1","RUNX2","PRRX1","MEIS3","IKZF1","POU2F2","CCNB1","CCNB2","DTL","CDC20","ZNF423","FOXM1","E2F1","CDC6","MEOX2","GFI1","CENPA","PKNOX2","RUNX1","CCNA2","CREB3L1","GLI2","HELLS","EXO1","RFC5","TBX21","BCL6B","TCF4","SOX17","STAT5A","FOXL1","MAFB","KPNA2","MCM7","ITGB2"], "paddingInner": 0.3, "paddingOuter": 0.25},
"axis": {"labels": false, "title": null, "domain": false, "ticks": true, "tickSize": 3, "tickColor": "#333333", "grid": true, "gridColor": "white", "gridWidth": 1.2}},
"y": {"field": "pairs", "type": "quantitative", "scale": {"domain": [-218, 4590], "nice": false, "zero": false},
"axis": {"values": [0, 500, 1000, 1500, 2000, 2500, 3000, 3500, 4000, 4500], "tickCount": 100, "format": "d", "labelExpr": "datum.value % 1000 === 0 ? datum.label : ''", "labelOverlap": false, "labelColor": "#0000FF", "labelFontSize": 14, "title": "#covered pairs", "titleColor": "#0000FF", "titleFontSize": 15, "grid": true, "gridColor": "white", "gridWidth": {"condition": {"test": "datum.value % 1000 !== 0", "value": 0.5}, "value": 1.2}, "tickOpacity": {"condition": {"test": "datum.value % 1000 !== 0", "value": 0}, "value": 1}, "tickColor": "#333333", "tickSize": 3, "domain": false, "titlePadding": 6}},
"color": {"field": "tf", "type": "nominal", "scale": {"domain": ["FLI1","SPI1","HIC1","EBF1","PRDM1","ZEB1","IRF8","SPIB","FOXC2","ETS1","IRF1","RUNX2","PRRX1","MEIS3","IKZF1","POU2F2","CCNB1","CCNB2","DTL","CDC20","ZNF423","FOXM1","E2F1","CDC6","MEOX2","GFI1","CENPA","PKNOX2","RUNX1","CCNA2","CREB3L1","GLI2","HELLS","EXO1","RFC5","TBX21","BCL6B","TCF4","SOX17","STAT5A","FOXL1","MAFB","KPNA2","MCM7","ITGB2"], "range": ["#F8766D","#F07E4D","#E98428","#E38900","#DC8D00","#D39200","#CA9700","#BD9C00","#B2A000","#A3A500","#93AA00","#81AD00","#6DB100","#4FB400","#1FB700","#00BA38","#00BC53","#00BE69","#00BF7D","#00C08E","#00C19F","#00C1AE","#00C0BB","#00BEC8","#00BCD5","#00B9E3","#00B5EE","#00B0F6","#00AAFE","#35A2FF","#619CFF","#8494FF","#9F8CFF","#B683FF","#CA7BFF","#DB72FB","#E76BF3","#F166E9","#F863DE","#FD61D1","#FF61C3","#FF63B4","#FF66A6","#FD6B96","#FA7086"]}, "legend": null}
}},
{"data": {"values": [{"note": "←——— Specific transcription factor (sTF) ———→", "tf": "E2F1", "v": 4050}]},
"mark": {"type": "text", "fontSize": 14, "color": "black"},
"encoding": {"x": {"field": "tf", "type": "nominal"}, "y": {"field": "v", "type": "quantitative"}, "text": {"field": "note"}}}
]
},
{
"width": 798, "height": 233,
"encoding": {
"x": {"field": "tf", "type": "nominal", "sort": null, "scale": {"domain": ["FLI1","SPI1","HIC1","EBF1","PRDM1","ZEB1","IRF8","SPIB","FOXC2","ETS1","IRF1","RUNX2","PRRX1","MEIS3","IKZF1","POU2F2","CCNB1","CCNB2","DTL","CDC20","ZNF423","FOXM1","E2F1","CDC6","MEOX2","GFI1","CENPA","PKNOX2","RUNX1","CCNA2","CREB3L1","GLI2","HELLS","EXO1","RFC5","TBX21","BCL6B","TCF4","SOX17","STAT5A","FOXL1","MAFB","KPNA2","MCM7","ITGB2"], "paddingInner": 0.3, "paddingOuter": 0.25}, "axis": null}
},
"layer": [
{"data": {"name": "tfs"}, "transform": [{"filter": "datum.tf === 'FLI1' || datum.tf === 'CDC20'"}],
"mark": {"type": "point", "filled": true, "opacity": 1, "shape": "M-0.43,-1H0.43V1H-0.43Z", "size": 2116, "strokeWidth": 0, "fill": {"gradient": "linear", "x1": 0, "y1": 0, "x2": 1, "y2": 0, "stops": [{"offset": 0, "color": "#FFF3E2"}, {"offset": 0.5, "color": "#F9C48E"}, {"offset": 1, "color": "#FFF3E2"}]}},
"encoding": {"y": {"datum": 2.4, "type": "quantitative", "scale": {"domain": [0, 25], "reverse": true, "nice": false, "zero": false}, "axis": null}}},
{"data": {"name": "tfs"}, "mark": {"type": "text", "angle": 270, "align": "right", "baseline": "middle", "fontSize": 14, "color": "#333333"},
"encoding": {"y": {"datum": 0.3, "type": "quantitative"}, "text": {"field": "tf"}}},
{"data": {"name": "darrows"}, "mark": {"type": "line", "interpolate": "basis", "color": "#8A8A8A", "strokeWidth": 9, "opacity": 0.3},
"encoding": {"y": {"field": "tier", "type": "quantitative"}, "detail": {"field": "arrow"}, "order": {"field": "seq"}}},
{"data": {"name": "darrows"}, "mark": {"type": "line", "interpolate": "basis", "color": "#E8231F", "strokeWidth": 2.6},
"encoding": {"y": {"field": "tier", "type": "quantitative"}, "detail": {"field": "arrow"}, "order": {"field": "seq"}}},
{"data": {"name": "dheads"}, "mark": {"type": "point", "filled": true, "opacity": 1, "shape": "M-1,-1L1,-1L0,1Z", "size": 144, "fill": "#E8231F", "strokeWidth": 0},
"encoding": {"y": {"field": "tier", "type": "quantitative"}}},
{"data": {"name": "dboxes"}, "transform": [{"filter": "datum.box === 'blue1'"}],
"mark": {"type": "point", "filled": true, "opacity": 1, "shape": "M-1,-0.268H1V0.268H-1Z", "size": 147456, "fill": "#4F5FEA", "stroke": "#2E2EA0", "strokeWidth": 2},
"encoding": {"y": {"field": "tier", "type": "quantitative"}}},
{"data": {"name": "dboxes"}, "transform": [{"filter": "datum.box === 'blue2'"}],
"mark": {"type": "point", "filled": true, "opacity": 1, "shape": "M-1,-0.477H1V0.477H-1Z", "size": 30276, "fill": "#4F5FEA", "stroke": "#2E2EA0", "strokeWidth": 2},
"encoding": {"y": {"field": "tier", "type": "quantitative"}}},
{"data": {"name": "dboxes"}, "transform": [{"filter": "datum.box === 'red'"}],
"mark": {"type": "point", "filled": true, "opacity": 1, "shape": "M-0.738,-1H0.738V1H-0.738Z", "size": 16900, "fill": "#F58080", "stroke": "#C44A4A", "strokeWidth": 2.5},
"encoding": {"y": {"field": "tier", "type": "quantitative"}}},
{"data": {"name": "dboxes"}, "transform": [{"filter": "datum.box === 'blue1'"}],
"mark": {"type": "text", "align": "center", "baseline": "middle", "dy": -37, "color": "white", "fontWeight": "bold", "fontSize": 14, "lineBreak": "\n", "lineHeight": 18.7},
"encoding": {"y": {"field": "tier", "type": "quantitative"}, "text": {"field": "txt"}}},
{"data": {"name": "dboxes"}, "transform": [{"filter": "datum.box === 'blue2'"}],
"mark": {"type": "text", "align": "left", "dx": -73, "baseline": "middle", "dy": -28, "color": "white", "fontWeight": "bold", "fontSize": 14, "lineBreak": "\n", "lineHeight": 18.7},
"encoding": {"y": {"field": "tier", "type": "quantitative"}, "text": {"field": "txt"}}},
{"data": {"name": "dboxes"}, "transform": [{"filter": "datum.box === 'red'"}],
"mark": {"type": "text", "align": "center", "baseline": "middle", "dy": -55, "color": "black", "fontWeight": "bold", "fontSize": 14, "lineBreak": "\n", "lineHeight": 15.7},
"encoding": {"y": {"field": "tier", "type": "quantitative"}, "text": {"field": "txt"}}}
]
}
]
},
{
"title": {"text": "E", "anchor": "start", "frame": "bounds", "fontSize": 17, "fontWeight": "bold", "offset": -19},
"spacing": 0,
"vconcat": [
{"width": 369, "height": 1, "data": {"values": [{"k": 1}]}, "mark": {"type": "point", "opacity": 0}, "encoding": {}},
{
"title": {"text": "18a~CDCA5", "fontSize": 13, "offset": 0},
"width": 369, "height": 88,
"view": {"fill": "#EBEBEB", "stroke": null},
"data": {"name": "ecorr"},
"transform": [{"filter": "datum.pair === '18a~CDCA5'"}],
"layer": [
{"mark": {"type": "bar", "color": "#0000FF", "stroke": "#7070FF", "strokeWidth": 0.8},
"encoding": {
"x": {"field": "cancer", "type": "nominal", "scale": {"paddingInner": 0.3, "paddingOuter": 0.25}, "axis": {"labels": false, "title": null, "domain": false, "ticks": true, "tickSize": 3, "tickColor": "#333333", "grid": true, "gridColor": "white", "gridWidth": 1.1}},
"y": {"field": "corr", "type": "quantitative", "scale": {"domain": [-0.075, 1.05], "nice": false, "zero": false},
"axis": {"values": [0, 0.125, 0.25, 0.375, 0.5, 0.625, 0.75, 0.875, 1], "tickCount": 100, "format": ".2f", "labelExpr": "(datum.value * 4) % 1 === 0 ? datum.label : ''", "labelOverlap": false, "labelColor": "#0000FF", "labelFontSize": 14, "title": "Correlation", "titleColor": "#0000FF", "titleFontSize": 15, "grid": true, "gridColor": "white", "gridWidth": {"condition": {"test": "(datum.value * 4) % 1 !== 0", "value": 0.5}, "value": 1.1}, "tickOpacity": {"condition": {"test": "(datum.value * 4) % 1 !== 0", "value": 0}, "value": 1}, "tickColor": "#333333", "tickSize": 4, "domain": false, "titlePadding": 4}}
}},
{"layer": [
{"mark": {"type": "line", "color": "#00EE00", "strokeDash": [3, 7], "strokeWidth": 3.5}, "encoding": {"x": {"field": "cancer", "type": "nominal"}, "y": {"datum": 8, "type": "quantitative"}}},
{"mark": {"type": "line", "color": "#FF0000", "strokeWidth": 1}, "encoding": {"x": {"field": "cancer", "type": "nominal"}, "y": {"field": "nlp", "type": "quantitative", "scale": {"domain": [-7.5, 105], "nice": false, "zero": false},
"axis": {"orient": "right", "values": [0, 8, 25, 50, 75, 100], "tickCount": 100, "labelOverlap": false, "labelColor": "#FF0000", "labelFontSize": 12, "title": "-log10(P)", "titleColor": "#FF0000", "titleFontSize": 15, "grid": false, "domain": false, "tickColor": "#333333", "tickSize": 4, "labelBaseline": {"condition": {"test": "datum.value === 0", "value": "top"}, "value": "middle"}, "titlePadding": 6}}}},
{"mark": {"type": "point", "filled": true, "color": "#FF0000", "size": 90, "opacity": 1}, "encoding": {"x": {"field": "cancer", "type": "nominal"}, "y": {"field": "nlp", "type": "quantitative"}}}
]}
],
"resolve": {"scale": {"y": "independent"}}
},
{
"title": {"text": "18a~CDC20", "fontSize": 13, "offset": 0},
"width": 369, "height": 88,
"view": {"fill": "#EBEBEB", "stroke": null},
"data": {"name": "ecorr"},
"transform": [{"filter": "datum.pair === '18a~CDC20'"}],
"layer": [
{"mark": {"type": "bar", "color": "#0000FF", "stroke": "#7070FF", "strokeWidth": 0.8},
"encoding": {
"x": {"field": "cancer", "type": "nominal", "scale": {"paddingInner": 0.3, "paddingOuter": 0.25}, "axis": {"labels": false, "title": null, "domain": false, "ticks": true, "tickSize": 3, "tickColor": "#333333", "grid": true, "gridColor": "white", "gridWidth": 1.1}},
"y": {"field": "corr", "type": "quantitative", "scale": {"domain": [-0.075, 1.05], "nice": false, "zero": false},
"axis": {"values": [0, 0.125, 0.25, 0.375, 0.5, 0.625, 0.75, 0.875, 1], "tickCount": 100, "format": ".2f", "labelExpr": "(datum.value * 4) % 1 === 0 ? datum.label : ''", "labelOverlap": false, "labelColor": "#0000FF", "labelFontSize": 14, "title": "Correlation", "titleColor": "#0000FF", "titleFontSize": 15, "grid": true, "gridColor": "white", "gridWidth": {"condition": {"test": "(datum.value * 4) % 1 !== 0", "value": 0.5}, "value": 1.1}, "tickOpacity": {"condition": {"test": "(datum.value * 4) % 1 !== 0", "value": 0}, "value": 1}, "tickColor": "#333333", "tickSize": 4, "domain": false, "titlePadding": 4}}
}},
{"layer": [
{"mark": {"type": "line", "color": "#00EE00", "strokeDash": [3, 7], "strokeWidth": 3.5}, "encoding": {"x": {"field": "cancer", "type": "nominal"}, "y": {"datum": 8, "type": "quantitative"}}},
{"mark": {"type": "line", "color": "#FF0000", "strokeWidth": 1}, "encoding": {"x": {"field": "cancer", "type": "nominal"}, "y": {"field": "nlp", "type": "quantitative", "scale": {"domain": [-7.5, 105], "nice": false, "zero": false},
"axis": {"orient": "right", "values": [0, 8, 25, 50, 75, 100], "tickCount": 100, "labelOverlap": false, "labelColor": "#FF0000", "labelFontSize": 12, "title": "-log10(P)", "titleColor": "#FF0000", "titleFontSize": 15, "grid": false, "domain": false, "tickColor": "#333333", "tickSize": 4, "labelBaseline": {"condition": {"test": "datum.value === 0", "value": "top"}, "value": "middle"}, "titlePadding": 6}}}},
{"mark": {"type": "point", "filled": true, "color": "#FF0000", "size": 90, "opacity": 1}, "encoding": {"x": {"field": "cancer", "type": "nominal"}, "y": {"field": "nlp", "type": "quantitative"}}}
]}
],
"resolve": {"scale": {"y": "independent"}}
},
{
"title": {"text": "CDCA5~CDC20", "fontSize": 13, "offset": 0},
"width": 369, "height": 88,
"view": {"fill": "#EBEBEB", "stroke": null},
"data": {"name": "ecorr"},
"transform": [{"filter": "datum.pair === 'CDCA5~CDC20'"}],
"layer": [
{"mark": {"type": "bar", "color": "#0000FF", "stroke": "#7070FF", "strokeWidth": 0.8},
"encoding": {
"x": {"field": "cancer", "type": "nominal", "scale": {"paddingInner": 0.3, "paddingOuter": 0.25}, "axis": {"labels": true, "labelAngle": -45, "labelFontSize": 12.5, "labelColor": "#1A1A1A", "labelPadding": 2, "labelOverlap": false, "title": null, "domain": false, "ticks": true, "tickSize": 3, "tickColor": "#333333", "grid": true, "gridColor": "white", "gridWidth": 1.1}},
"y": {"field": "corr", "type": "quantitative", "scale": {"domain": [-0.075, 1.05], "nice": false, "zero": false},
"axis": {"values": [0, 0.125, 0.25, 0.375, 0.5, 0.625, 0.75, 0.875, 1], "tickCount": 100, "format": ".2f", "labelExpr": "(datum.value * 4) % 1 === 0 ? datum.label : ''", "labelOverlap": false, "labelColor": "#0000FF", "labelFontSize": 14, "title": "Correlation", "titleColor": "#0000FF", "titleFontSize": 15, "grid": true, "gridColor": "white", "gridWidth": {"condition": {"test": "(datum.value * 4) % 1 !== 0", "value": 0.5}, "value": 1.1}, "tickOpacity": {"condition": {"test": "(datum.value * 4) % 1 !== 0", "value": 0}, "value": 1}, "tickColor": "#333333", "tickSize": 4, "domain": false, "titlePadding": 4}}
}},
{"layer": [
{"mark": {"type": "line", "color": "#00EE00", "strokeDash": [3, 7], "strokeWidth": 3.5}, "encoding": {"x": {"field": "cancer", "type": "nominal"}, "y": {"datum": 8, "type": "quantitative"}}},
{"mark": {"type": "line", "color": "#FF0000", "strokeWidth": 1}, "encoding": {"x": {"field": "cancer", "type": "nominal"}, "y": {"field": "nlp", "type": "quantitative", "scale": {"domain": [-7.5, 105], "nice": false, "zero": false},
"axis": {"orient": "right", "values": [0, 8, 25, 50, 75, 100], "tickCount": 100, "labelOverlap": false, "labelColor": "#FF0000", "labelFontSize": 12, "title": "-log10(P)", "titleColor": "#FF0000", "titleFontSize": 15, "grid": false, "domain": false, "tickColor": "#333333", "tickSize": 4, "labelBaseline": {"condition": {"test": "datum.value === 0", "value": "top"}, "value": "middle"}, "titlePadding": 6}}}},
{"mark": {"type": "point", "filled": true, "color": "#FF0000", "size": 90, "opacity": 1}, "encoding": {"x": {"field": "cancer", "type": "nominal"}, "y": {"field": "nlp", "type": "quantitative"}}}
]}
],
"resolve": {"scale": {"y": "independent"}}
}
]
}
]
}
]
}
